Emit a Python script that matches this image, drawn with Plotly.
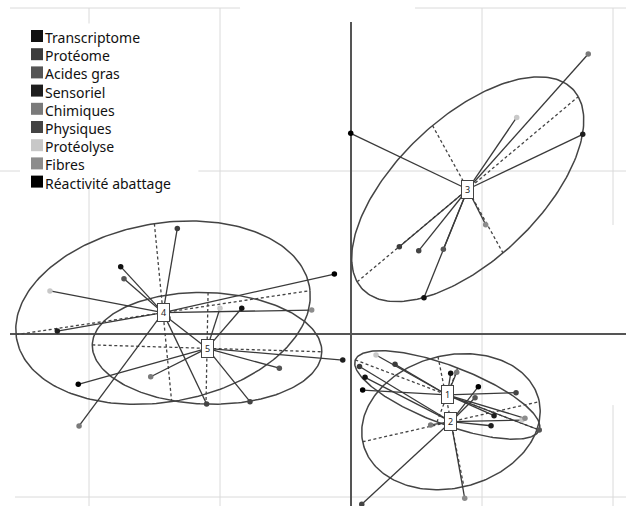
import numpy as np
import plotly.graph_objects as go

# ---------------- data ----------------
group_names = ["Transcriptome", "Protéome", "Acides gras", "Sensoriel", "Chimiques",
               "Physiques", "Protéolyse", "Fibres", "Réactivité abattage"]
group_colors = ["#111111", "#3c3c3c", "#555555", "#1e1e1e", "#7a7a7a",
                "#444444", "#c8c8c8", "#8c8c8c", "#000000"]

centroid_labels = ["1", "2", "3", "4", "5"]
centroid_x = [0.735, 0.763, 0.891, -1.435, -1.099]
centroid_y = [-0.374, -0.538, 0.888, 0.131, -0.088]

# partial points (one per variable group, in group order) for each centroid
partial_x_1 = [0.761, 0.336, 1.437, 1.092, 0.807, 1.260, 0.191, 1.328, 0.089]
partial_y_1 = [-0.241, -0.186, -0.589, -0.501, -0.235, -0.360, -0.129, -0.517, -0.344]
partial_x_2 = [0.107, 0.065, 0.947, 1.069, 0.608, 0.082, 1.305, 0.868, 0.972]
partial_y_2 = [-0.266, -0.199, -0.391, -0.563, -0.558, -1.045, -0.528, -1.008, -0.323]
partial_x_3 = [0.557, 0.369, 0.705, 1.769, 1.811, 0.517, 1.265, 1.028, -0.002]
partial_y_3 = [0.223, 0.536, 0.520, 1.225, 1.718, 0.511, 1.329, 0.671, 1.231]
partial_x_4 = [-1.758, -1.326, -1.733, -2.242, -2.076, -1.102, -2.298, -0.300, -0.127]
partial_y_4 = [0.413, 0.648, 0.339, 0.018, -0.564, -0.429, 0.264, 0.147, 0.368]
partial_x_5 = [-0.834, -1.397, -0.547, -0.063, -1.529, -0.771, -1.000, -1.120, -2.082]
partial_y_5 = [0.158, 0.098, -0.210, -0.160, -0.262, -0.415, 0.158, -0.060, -0.309]

partial_x = [partial_x_1, partial_x_2, partial_x_3, partial_x_4, partial_x_5]
partial_y = [partial_y_1, partial_y_2, partial_y_3, partial_y_4, partial_y_5]

# confidence ellipses: conjugate semi-axis vectors (A, B) around each centroid
ellipse_ax = [0.702, 0.674, 0.844, 1.122, 0.876]
ellipse_ay = [-0.215, 0.123, 0.568, 0.135, -0.021]
ellipse_bx = [0.079, 0.099, 0.269, 0.066, -0.008]
ellipse_by = [0.166, -0.399, -0.391, -0.546, -0.342]

x_range = [-2.6794, 2.0992]
y_range = [-1.0552, 2.0491]

# ---------------- figure ----------------
fig = go.Figure()

GRID = "#dadada"
shapes = []
def seg(x0, y0, x1, y1, color, width, layer="below", dash=None):
    d = dict(type="line", x0=x0, y0=y0, x1=x1, y1=y1, xref="x", yref="y",
             line=dict(color=color, width=width), layer=layer)
    if dash:
        d["line"]["dash"] = dash
    shapes.append(d)

# grid lines (with the gaps seen in the reference)
seg(-2, y_range[0], -2, 2.0, GRID, 1)
seg(-1, y_range[0], -1, 2.0, GRID, 1)
seg(1, y_range[0], 1, 2.0, GRID, 1)
seg(2, 0.669, 2, 2.0, GRID, 1)
seg(2, y_range[0], 2, -0.436, GRID, 1)
seg(-2.603, 2, -0.847, 2, GRID, 1)
seg(0.489, 2, x_range[1], 2, GRID, 1)
seg(x_range[0], 1, x_range[1], 1, GRID, 1)
seg(-2.565, -1, x_range[1], -1, GRID, 1)

# white backing of the legend (hides grid lines)
shapes.append(dict(type="rect", xref="x", yref="y", x0=-2.527, x1=-1.165, y0=0.89, y1=1.905,
                   fillcolor="white", line=dict(width=0), layer="between"))

# main axes
seg(0, y_range[0], 0, 1.914, "#555555", 2, layer="between")
seg(-2.603, 0, x_range[1], 0, "#555555", 2, layer="between")

# ellipse axes (dashed)
for i in range(5):
    cx, cy = centroid_x[i], centroid_y[i]
    seg(cx - ellipse_ax[i], cy - ellipse_ay[i], cx + ellipse_ax[i], cy + ellipse_ay[i],
        "#444444", 1.3, layer="between", dash="3px,2.5px")
    seg(cx - ellipse_bx[i], cy - ellipse_by[i], cx + ellipse_bx[i], cy + ellipse_by[i],
        "#444444", 1.3, layer="between", dash="3px,2.5px")

# ellipses
t = np.linspace(0, 2 * np.pi, 241)
ex, ey = [], []
for i in range(5):
    ex += list(centroid_x[i] + ellipse_ax[i] * np.cos(t) + ellipse_bx[i] * np.sin(t)) + [None]
    ey += list(centroid_y[i] + ellipse_ay[i] * np.cos(t) + ellipse_by[i] * np.sin(t)) + [None]
fig.add_trace(go.Scatter(x=ex, y=ey, mode="lines", line=dict(color="#444444", width=1.5),
                         hoverinfo="skip", showlegend=False))

# star lines from centroids to partial points
lx, ly = [], []
for i in range(5):
    for px, py in zip(partial_x[i], partial_y[i]):
        lx += [centroid_x[i], px, None]
        ly += [centroid_y[i], py, None]
fig.add_trace(go.Scatter(x=lx, y=ly, mode="lines", line=dict(color="#3a3a3a", width=1.3),
                         hoverinfo="skip", showlegend=False))

# partial points coloured by variable group
for g, name in enumerate(group_names):
    fig.add_trace(go.Scatter(
        x=[partial_x[i][g] for i in range(5)],
        y=[partial_y[i][g] for i in range(5)],
        mode="markers", name=name,
        marker=dict(color=group_colors[g], size=5.5, line=dict(width=0)),
        showlegend=False))

annotations = []
# centroid boxes
for i in range(5):
    annotations.append(dict(x=centroid_x[i], y=centroid_y[i], xref="x", yref="y",
                            text=centroid_labels[i], showarrow=False,
                            font=dict(family="Noto Sans", size=9, color="#222222"),
                            bgcolor="white", bordercolor="#444444", borderwidth=1,
                            borderpad=1, width=9, height=15,
                            xanchor="center", yanchor="middle"))

# legend (squares + one multi-line label block)
W, H = 626, 506
LINE = 18.2
for k, name in enumerate(group_names):
    cy_px = 36 + LINE * k
    shapes.append(dict(type="rect", xref="paper", yref="paper",
                       x0=31 / W, x1=43 / W, y0=1 - (cy_px + 6) / H, y1=1 - (cy_px - 6) / H,
                       fillcolor=group_colors[k], line=dict(width=0), layer="above"))
annotations.append(dict(x=44 / W, y=1 - (36 - LINE / 2) / H, xref="paper", yref="paper",
                        text="<br>".join(group_names), showarrow=False,
                        xanchor="left", yanchor="top", align="left", borderpad=0,
                        font=dict(family="Noto Sans", size=14, color="#111111")))

fig.update_layout(
    width=W, height=H, margin=dict(l=0, r=0, t=0, b=0),
    paper_bgcolor="white", plot_bgcolor="white",
    xaxis=dict(range=x_range, visible=False, fixedrange=True),
    yaxis=dict(range=y_range, visible=False, fixedrange=True),
    shapes=shapes, annotations=annotations, showlegend=False,
)

fig.write_html("out.html", config={"displayModeBar": False},
               post_script="document.body.style.margin='0';document.body.style.padding='0';")
